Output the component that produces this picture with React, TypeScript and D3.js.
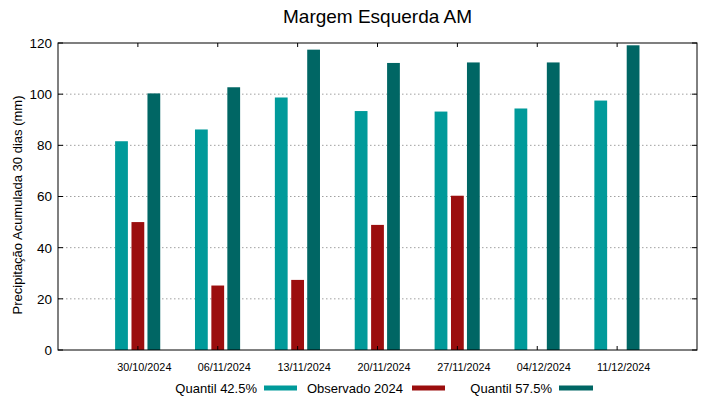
import React from "react";
import * as d3 from "d3";

const categories = ["30/10/2024", "06/11/2024", "13/11/2024", "20/11/2024", "27/11/2024", "04/12/2024", "11/12/2024"];
const quantil425 = [81.6, 86.2, 98.7, 93.4, 93.2, 94.4, 97.5];
const observado2024: (number | null)[] = [50.0, 25.2, 27.4, 48.9, 60.3, null, null];
const quantil575 = [100.3, 102.7, 117.4, 112.2, 112.4, 112.4, 119.1];
const yTicks = [0, 20, 40, 60, 80, 100, 120];
const title = "Margem Esquerda AM";
const yLabel = "Precipitação Acumulada 30 dias (mm)";
const seriesNames = ["Quantil 42.5%", "Observado 2024", "Quantil 57.5%"];

const W = 719, H = 399;
const L = 58, R = 697, T = 43, B = 350;
const colors = ["#009a9a", "#9b0e0e", "#006664"];
const font = "'Liberation Sans', Arial, sans-serif";

export default function App() {
  const x = d3.scaleLinear().domain([-1, categories.length]).range([L, R]);
  const y = d3.scaleLinear().domain([0, 120]).range([B, T]);
  const unit = x(1) - x(0);
  const bw = unit * 0.16;
  const offsets = [-0.205, 0, 0.2];
  const series = [quantil425, observado2024, quantil575];
  const legendItems = [
    { textEnd: 257, s0: 264, s1: 297 },
    { textEnd: 403, s0: 412, s1: 445 },
    { textEnd: 552, s0: 559, s1: 593 },
  ];
  return (
    <svg width={W} height={H} style={{ position: "fixed", left: 0, top: 0, background: "#fff" }} fontFamily={font}>
      <rect x={0} y={0} width={W} height={H} fill="#fff" />
      {yTicks.filter((t) => t > 0 && t < 120).map((t) => (
        <line key={"g" + t} x1={L} x2={R} y1={y(t)} y2={y(t)} stroke="#a0a0a0" strokeWidth={1} strokeDasharray="1.5,2.5" />
      ))}
      {series.map((s, si) =>
        s.map((v, i) =>
          v == null ? null : (
            <rect
              key={si + "-" + i}
              x={x(i + offsets[si]) - bw / 2}
              y={y(v)}
              width={bw}
              height={y(0) - y(v)}
              fill={colors[si]}
            />
          )
        )
      )}
      {yTicks.map((t) => (
        <g key={"yt" + t}>
          <line x1={L} x2={L + 5} y1={y(t)} y2={y(t)} stroke="#000" />
          <line x1={R} x2={R - 5} y1={y(t)} y2={y(t)} stroke="#000" />
          <text x={L - 6} y={y(t)} dy="0.36em" textAnchor="end" fontSize={13.5} fill="#000">{t}</text>
        </g>
      ))}
      {categories.map((c, i) => (
        <g key={"xt" + c}>
          <line x1={x(i)} x2={x(i)} y1={B} y2={B - 4} stroke="#000" />
          <line x1={x(i)} x2={x(i)} y1={T} y2={T + 4} stroke="#000" />
          <text x={x(i) + 6.5} y={371} textAnchor="middle" fontSize={10.8} fill="#000">{c}</text>
        </g>
      ))}
      <rect x={L} y={T} width={R - L} height={B - T} fill="none" stroke="#000" strokeWidth={1} />
      <text x={(L + R) / 2} y={23} textAnchor="middle" fontSize={19} fill="#000">{title}</text>
      <text transform={`translate(22,205) rotate(-90)`} textAnchor="middle" fontSize={13} fill="#000">{yLabel}</text>
      {legendItems.map((it, i) => (
        <g key={"lg" + i}>
          <text x={it.textEnd} y={393} textAnchor="end" fontSize={13} fill="#000">{seriesNames[i]}</text>
          <rect x={it.s0} y={385.5} width={it.s1 - it.s0} height={5} fill={colors[i]} />
        </g>
      ))}
    </svg>
  );
}
